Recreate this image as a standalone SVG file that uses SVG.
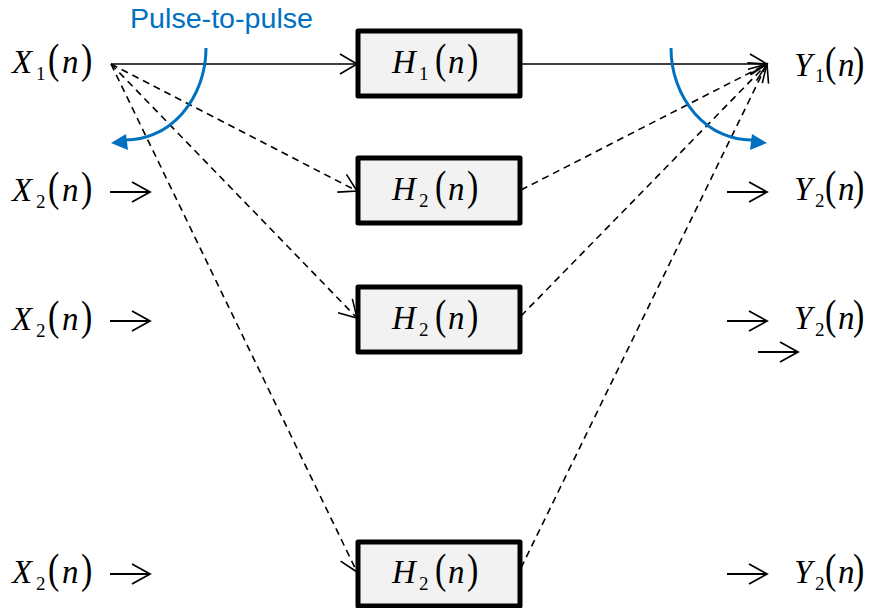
<svg xmlns="http://www.w3.org/2000/svg" width="870" height="608" viewBox="0 0 870 608">
<defs>
<marker id="ah" viewBox="0 0 20 22" refX="18" refY="11" markerWidth="20" markerHeight="22" markerUnits="userSpaceOnUse" orient="auto">
<path d="M1,1 L18,11 L1,21" fill="none" stroke="#000" stroke-width="1.6"/>
</marker>
<style>
.box{fill:#f2f2f2;stroke:#000;stroke-width:5;stroke-linejoin:round}
.m{font-family:"Liberation Serif","Times New Roman",serif;font-style:italic;font-size:33px;fill:#000}
.s{font-family:"Liberation Serif","Times New Roman",serif;font-size:19px;fill:#000}
.p{font-family:"Liberation Serif","Times New Roman",serif;font-size:34px;fill:#000}
.solid{fill:none;stroke:#000;stroke-width:1.6;marker-end:url(#ah)}
.dash{fill:none;stroke:#000;stroke-width:1.6;stroke-dasharray:7,5;marker-end:url(#ah)}
.arr{fill:none;stroke:#000;stroke-width:1.8}
.blue{fill:none;stroke:#0070c0;stroke-width:3}
.bluehead{fill:#0070c0}
.lbl{font-family:"Liberation Sans",Arial,sans-serif;font-size:27px;fill:#0070c0}
</style>
</defs>
<rect width="870" height="608" fill="#fff"/>

<g id="connectors">
<path class="solid" d="M111,64 L357,64"/>
<path class="solid" d="M521,64 L767,64"/>
<path class="dash" d="M111,64 L357,191"/>
<path class="dash" d="M111,64 L357,318"/>
<path class="dash" d="M111,64 L357,572"/>
<path class="dash" d="M521,190 L767,64"/>
<path class="dash" d="M521,316 L767,64"/>
<path class="dash" d="M521,568 L767,64"/>
</g>

<g id="pulse-arcs">
<path class="blue" d="M206,48 A80,92 0 0 1 124,140"/>
<polygon class="bluehead" points="111,143 126,134 128,150"/>
<path class="blue" d="M671,48 A80,92 0 0 0 753,140"/>
<polygon class="bluehead" points="767,143 752,134 750,150"/>
<text class="lbl" x="221.5" y="28" text-anchor="middle" textLength="183" lengthAdjust="spacingAndGlyphs">Pulse-to-pulse</text>
</g>

<g id="H1">
<rect class="box" x="358" y="31" width="162" height="65"/>
<text class="m" x="392" y="73">H</text><text class="s" x="419" y="80">1</text><text class="p" transform="translate(435,73) scale(1,1.22)">(</text><text class="m" x="448" y="73">n</text><text class="p" transform="translate(467,73) scale(1,1.22)">)</text>
</g>
<g id="H2a">
<rect class="box" x="358" y="158" width="162" height="65"/>
<text class="m" x="392" y="200">H</text><text class="s" x="419" y="207">2</text><text class="p" transform="translate(435,200) scale(1,1.22)">(</text><text class="m" x="448" y="200">n</text><text class="p" transform="translate(467,200) scale(1,1.22)">)</text>
</g>
<g id="H2b">
<rect class="box" x="358" y="287" width="162" height="65"/>
<text class="m" x="392" y="329">H</text><text class="s" x="419" y="336">2</text><text class="p" transform="translate(435,329) scale(1,1.22)">(</text><text class="m" x="448" y="329">n</text><text class="p" transform="translate(467,329) scale(1,1.22)">)</text>
</g>
<g id="H2c">
<rect class="box" x="358" y="542" width="162" height="64"/>
<text class="m" x="392" y="583">H</text><text class="s" x="419" y="590">2</text><text class="p" transform="translate(435,583) scale(1,1.22)">(</text><text class="m" x="448" y="583">n</text><text class="p" transform="translate(467,583) scale(1,1.22)">)</text>
</g>

<g id="X1">
<text class="m" x="12" y="73">X</text><text class="s" x="36" y="80">1</text><text class="p" transform="translate(48,73) scale(1,1.22)">(</text><text class="m" x="62" y="73">n</text><text class="p" transform="translate(81,73) scale(1,1.22)">)</text>
</g>
<g id="X2a">
<text class="m" x="12" y="201">X</text><text class="s" x="36" y="208">2</text><text class="p" transform="translate(48,201) scale(1,1.22)">(</text><text class="m" x="62" y="201">n</text><text class="p" transform="translate(81,201) scale(1,1.22)">)</text>
<path class="arr" d="M110,192 H150 M132,182 L150,192 L132,202"/>
</g>
<g id="X2b">
<text class="m" x="12" y="330">X</text><text class="s" x="36" y="337">2</text><text class="p" transform="translate(48,330) scale(1,1.22)">(</text><text class="m" x="62" y="330">n</text><text class="p" transform="translate(81,330) scale(1,1.22)">)</text>
<path class="arr" d="M110,321 H150 M132,311 L150,321 L132,331"/>
</g>
<g id="X2c">
<text class="m" x="12" y="583">X</text><text class="s" x="36" y="590">2</text><text class="p" transform="translate(48,583) scale(1,1.22)">(</text><text class="m" x="62" y="583">n</text><text class="p" transform="translate(81,583) scale(1,1.22)">)</text>
<path class="arr" d="M110,574 H150 M132,564 L150,574 L132,584"/>
</g>

<g id="Y1">
<text class="m" x="794" y="76">Y</text><text class="s" x="815" y="82">1</text><text class="p" transform="translate(825,76) scale(1,1.22)">(</text><text class="m" x="838" y="76">n</text><text class="p" transform="translate(853,76) scale(1,1.22)">)</text>
</g>
<g id="Y2a">
<path class="arr" d="M727,192 H767 M749,182 L767,192 L749,202"/>
<text class="m" x="794" y="200">Y</text><text class="s" x="815" y="207">2</text><text class="p" transform="translate(825,200) scale(1,1.22)">(</text><text class="m" x="838" y="200">n</text><text class="p" transform="translate(853,200) scale(1,1.22)">)</text>
</g>
<g id="Y2b">
<path class="arr" d="M727,321 H767 M749,311 L767,321 L749,331"/>
<path class="arr" d="M758,352 H798 M780,342 L798,352 L780,362"/>
<text class="m" x="794" y="329">Y</text><text class="s" x="815" y="336">2</text><text class="p" transform="translate(825,329) scale(1,1.22)">(</text><text class="m" x="838" y="329">n</text><text class="p" transform="translate(853,329) scale(1,1.22)">)</text>
</g>
<g id="Y2c">
<path class="arr" d="M727,574 H767 M749,564 L767,574 L749,584"/>
<text class="m" x="794" y="583">Y</text><text class="s" x="815" y="590">2</text><text class="p" transform="translate(825,583) scale(1,1.22)">(</text><text class="m" x="838" y="583">n</text><text class="p" transform="translate(853,583) scale(1,1.22)">)</text>
</g>
</svg>
